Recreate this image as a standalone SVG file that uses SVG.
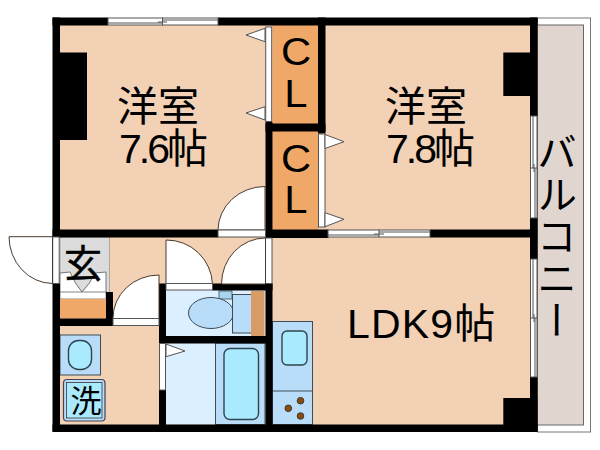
<svg xmlns="http://www.w3.org/2000/svg" width="600" height="450" viewBox="0 0 600 450">
<style>
.w{fill:#000}
.fl{fill:#f2d1b5}
.cl{fill:#f0a868}
.lb{fill:#dcefff}
.bl{fill:#b9dcf8;stroke:#3c4c58;stroke-width:1}
.aq{fill:#a9eaff;stroke:#2f4450;stroke-width:1.4}
.op{fill:#fff;stroke:#555;stroke-width:1}
.dr{fill:#fff;stroke:#4a3a2c;stroke-width:1}
.tk{fill:none;stroke:#555;stroke-width:1}
text{fill:#000;font-family:"Liberation Sans","Noto Sans CJK JP",sans-serif}
.j{font-size:41px}
.c{font-size:38px;text-anchor:middle}
</style>
<rect width="600" height="450" fill="#fff"/>
<g id="balcony">
<rect x="537.5" y="18" width="53" height="414" fill="#fff" stroke="#777" stroke-width="1"/>
<rect x="537.5" y="25" width="46" height="400" fill="#e0d6cf" stroke="#666" stroke-width="1"/>
</g>
<g id="floor">
<rect class="fl" x="60" y="25" width="470" height="400"/>
</g>
<g id="closets">
<rect class="cl" x="272.5" y="25" width="46" height="99"/>
<rect class="cl" x="272.5" y="131" width="46" height="99"/>
</g>
<g id="entrance">
<rect x="60" y="237" width="49.500" height="56" fill="#dcdcdc" stroke="#888" stroke-width="0.600"/>
<path d="M60 273L70 272Q75 284 82 292Q90 284 95 273L106 272V293H60Z" fill="#fff" stroke="#555" stroke-width="0.800"/>
<rect x="60" y="292" width="46" height="7" fill="#fff" stroke="#666" stroke-width="0.800"/>
<rect class="cl" x="60" y="299" width="46" height="19.500"/>
</g>
<g id="toilet">
<rect class="lb" x="166" y="290" width="99.500" height="46"/>
<rect x="219" y="291" width="13" height="8" fill="#a8d4ee" stroke="#3c4c58" stroke-width="0.800"/>
<ellipse class="bl" cx="211" cy="313" rx="22.500" ry="15.500"/>
<rect class="bl" x="232.500" y="294.500" width="19" height="38.500"/>
<rect x="251" y="291" width="13.500" height="45" fill="#da9c66"/>
</g>
<g id="bath">
<rect class="lb" x="166" y="343" width="50" height="81.500"/>
<rect class="bl" x="215.500" y="343" width="49.500" height="81.500"/>
<rect class="aq" x="224" y="348.500" width="34.500" height="71" rx="6"/>
</g>
<g id="washroom">
<rect class="bl" x="60" y="335" width="40.500" height="40"/>
<rect class="aq" x="68.500" y="340.500" width="23" height="29" rx="10"/>
<rect x="63.500" y="379.500" width="41.500" height="41.500" rx="3.500" fill="#b9dcf8" stroke="#445" stroke-width="1.200"/>
<rect x="66.500" y="382.500" width="35.500" height="35.500" fill="#a9eaff" stroke="#333" stroke-width="0.800"/>
</g>
<g id="kitchen">
<rect class="bl" x="272.500" y="321.500" width="40" height="103"/>
<path d="M272.500 391H312.500" stroke="#3c4c58" stroke-width="1"/>
<rect class="aq" x="282" y="331" width="25" height="34" rx="5"/>
<g fill="#8a4a10" stroke="#3a3a30" stroke-width="1">
<circle cx="300.500" cy="400.700" r="3.300"/>
<circle cx="288.300" cy="408.300" r="3.300"/>
<circle cx="300.500" cy="416" r="3.300"/>
</g>
</g>
<g id="walls">
<rect class="w" x="52.500" y="17.500" width="55.500" height="8"/>
<rect class="w" x="217.500" y="17.500" width="320" height="8"/>
<rect class="w" x="52.500" y="17.500" width="7.500" height="220"/>
<rect class="w" x="60" y="52.500" width="27" height="87.500"/>
<rect class="w" x="503.300" y="52.500" width="27" height="43.500"/>
<rect class="w" x="530" y="17.500" width="7.500" height="98.500"/>
<rect class="w" x="530" y="218" width="7.500" height="41"/>
<rect class="w" x="530" y="377" width="7.500" height="55"/>
<rect class="w" x="503.300" y="398" width="34" height="34"/>
<rect class="w" x="52.500" y="424.500" width="485" height="7.500"/>
<rect class="w" x="318" y="17.500" width="7.500" height="116"/>
<rect class="w" x="265.500" y="123.500" width="60" height="8"/>
<rect class="w" x="265.500" y="122" width="7" height="116"/>
<rect class="w" x="265.500" y="229.500" width="63" height="8.500"/>
<rect class="w" x="430" y="229.500" width="100" height="8"/>
<rect class="w" x="52.500" y="229.500" width="166" height="8"/>
<rect class="w" x="52.500" y="283.500" width="7.500" height="148"/>
<rect class="w" x="106" y="292" width="7" height="34"/>
<rect class="w" x="60" y="318.500" width="53" height="7.500"/>
<rect class="w" x="159" y="283.500" width="7" height="60"/>
<rect class="w" x="212.500" y="283.500" width="60" height="7"/>
<rect class="w" x="159" y="336" width="113" height="7.500"/>
<rect class="w" x="159" y="390" width="7" height="42"/>
<rect class="w" x="265.500" y="283.500" width="7" height="148"/>
</g>
<g id="windows">
<rect class="op" x="108" y="18" width="110" height="7"/>
<path class="tk" d="M108 23H162M162 20H218M162.500 17.500V25.500M158 22H167"/>
<rect class="op" x="328" y="230" width="102" height="7"/>
<path class="tk" d="M328 235H379M379 232H430M379 229.500V237.500M374 234H384"/>
<rect class="op" x="530.500" y="116" width="6.500" height="102"/>
<path class="tk" d="M533 116V168M535 168V218M530 168H537.500M534 164V172"/>
<rect class="op" x="530.500" y="259" width="6.500" height="118"/>
<path class="tk" d="M533 259V318M535 318V377M530 318H537.500M534 314V322"/>
</g>
<g id="doors">
<rect class="op" x="265.700" y="27" width="6" height="94.500"/>
<path class="op" d="M265 28.300L246 35L265 41.700Z"/>
<path class="op" d="M265 106.700L246 113L265 120Z"/>
<rect class="op" x="318.500" y="134" width="6.500" height="93"/>
<path class="op" d="M325 134.500L344 141.700L325 148.500Z"/>
<path class="op" d="M325 212.700L344 219.300L325 226.700Z"/>
<path class="dr" d="M218 230A47 44 0 0 1 265 186.500V230Z"/>
<rect class="op" x="218" y="230" width="47.500" height="7"/>
<rect class="op" x="265.500" y="238" width="6.500" height="45.500"/>
<rect class="op" x="52.700" y="237" width="6.500" height="46.500"/>
<path class="dr" d="M9 236.700H52.500V283.500A44 47 0 0 1 9 236.700Z"/>
<path class="dr" d="M113 318.500A46 43 0 0 1 159 275V318.500Z"/>
<rect class="op" x="113" y="318.500" width="46" height="7"/>
<path class="dr" d="M166 240A46 46 0 0 1 212.500 284H166Z"/>
<path class="dr" d="M221.500 284A44 46 0 0 1 265.500 238V284Z"/>
<rect class="op" x="166" y="283.500" width="46.500" height="6.500"/>
<rect class="op" x="159.500" y="343.500" width="6" height="46.500"/>
<path class="op" d="M166 344L185 351L166 356.700Z"/>
</g>
<g id="labels">
<text class="j" x="117" y="121">洋室</text>
<text class="j" x="119" y="163" letter-spacing="-3">7.6<tspan letter-spacing="0">帖</tspan></text>
<text class="j" x="385" y="121">洋室</text>
<text class="j" x="386" y="163" letter-spacing="-3">7.8<tspan letter-spacing="0">帖</tspan></text>
<text class="c" transform="translate(296 65) scale(1.1 1)">C</text>
<text class="c" transform="translate(296 107) scale(1.1 1)">L</text>
<text class="c" transform="translate(296 172) scale(1.1 1)">C</text>
<text class="c" transform="translate(296 213) scale(1.1 1)">L</text>
<text x="347" y="338" font-size="41" letter-spacing="1.200">LDK9帖</text>
<text x="554" y="132" font-size="40" letter-spacing="2" writing-mode="vertical-rl">バルコニー</text>
<text x="64" y="277" font-size="38" stroke="#000" stroke-width="0.500">玄</text>
<text x="86" y="412" font-size="31" text-anchor="middle">洗</text>
</g>
</svg>
